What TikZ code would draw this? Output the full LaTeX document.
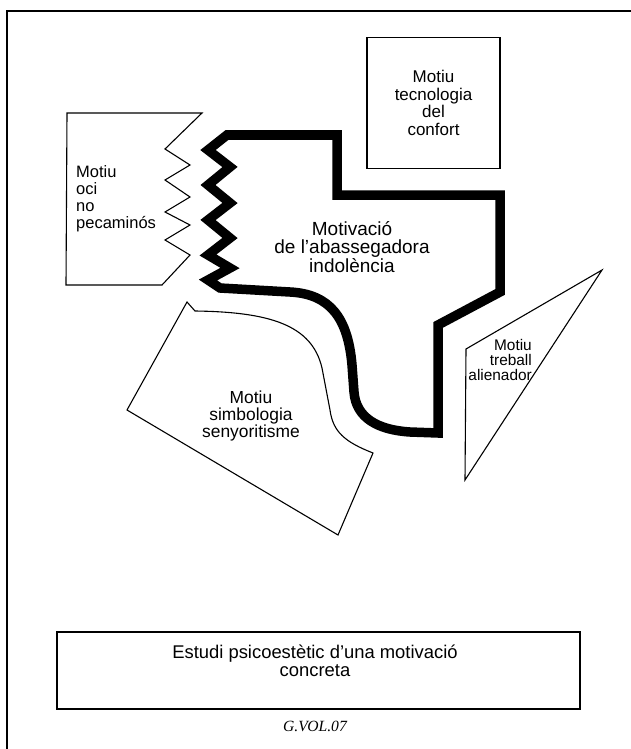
\documentclass[tikz,border=0pt]{standalone}
\usepackage{fontspec}
\setmainfont{Liberation Sans}
\newfontfamily\peufont{Liberation Serif}
\usetikzlibrary{positioning}

\begin{document}
\begin{tikzpicture}[
    x=1pt, y=-1pt,
    motiu/.style={draw, line width=1.1pt, line join=miter},
    nucli/.style={draw, line width=9.5pt, line join=miter},
    etiq/.style={inner sep=0pt, align=center},
    caixa/.style={draw, inner sep=0pt}
]
\useasboundingbox (0,0) rectangle (631,749);
\clip (0,0) rectangle (631,749);
\draw[line width=2pt] (7,11) rectangle (660,780);

\draw[motiu] (67,113) -- (202,113) -- (165,149) -- (190,165) -- (165,180) -- (190,197) -- (165,212)
  -- (190,225) -- (165,240) -- (190,255) -- (162,285) -- (66,285) -- cycle;
\node[etiq, align=left, anchor=base west, font=\fontsize{16.5}{16.7}\selectfont] (oci) at (76,228) {Motiu\\oci\\no\\pecaminós};

\node[caixa, line width=1.5pt, minimum width=133pt, minimum height=131pt, align=center,
  font=\fontsize{17}{17.5}\selectfont] (confort) at (433.5,103) {Motiu\\tecnologia\\del\\confort};

\draw[nucli] (208,150) -- (227,135) -- (337,135) -- (337,195) -- (500,195) -- (500,292) -- (438,325)
  -- (438,433) -- (410,432) .. controls (378,430) and (356,418) .. (354,392) -- (352,365)
  .. controls (348,318) and (330,294) .. (290,292) -- (220,288) -- (208,280) -- (230,268) -- (208,255)
  -- (230,238) -- (208,220) -- (230,203) -- (208,185) -- (230,167) -- cycle;
\node[etiq, anchor=base, font=\fontsize{19}{18.5}\selectfont] (indolencia) at (352,272) {Motivació\\de l’abassegadora\\indolència};

\draw[motiu] (187,302) -- (195,311) .. controls (270,312) and (312,325) .. (322,368) -- (330,410)
  .. controls (333,432) and (345,442) .. (373,453) -- (338,535) -- (127,410) -- cycle;
\node[etiq, anchor=base, font=\fontsize{17.4}{17}\selectfont] (senyoritisme) at (251,437) {Motiu\\simbologia\\senyoritisme};

\draw[motiu] (466,349) -- (602,270) -- (465,480) -- cycle;
\node[etiq, align=right, anchor=base east, font=\fontsize{15.4}{15}\selectfont] (alienador) at (532,380) {Motiu\\treball\\alienador};

\node[caixa, line width=2pt, minimum width=523pt, minimum height=77pt] (estudi) at (318.5,670.5) {};
\node[etiq, anchor=base, font=\fontsize{18.4}{18}\selectfont] (titol) at (315,676) {Estudi psicoestètic d’una motivació\\concreta};
\node[etiq, anchor=base, font=\peufont\itshape\fontsize{15.6}{16}\selectfont] (codi) at (315,731) {G.VOL.07};
\end{tikzpicture}
\end{document}
